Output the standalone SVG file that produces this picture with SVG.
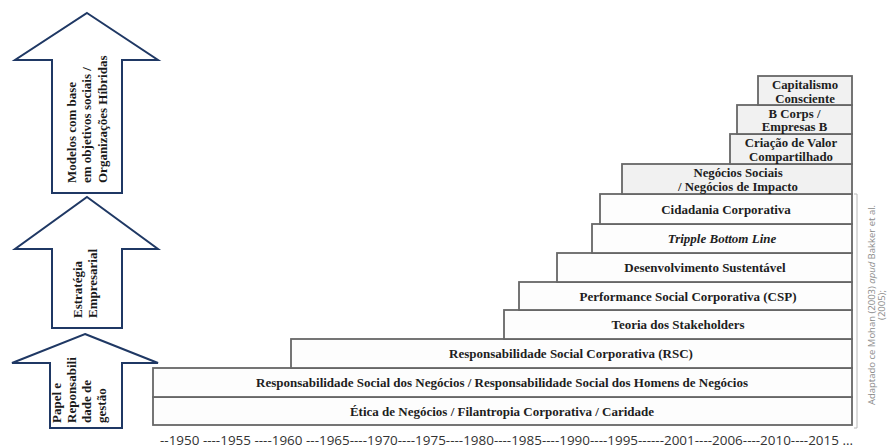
<svg xmlns="http://www.w3.org/2000/svg" width="892" height="448" viewBox="0 0 892 448">
<style>
.arrow{fill:#ffffff;stroke:#1f3864;stroke-width:2;stroke-linejoin:miter}
.atxt{font-family:"Liberation Serif","Times New Roman",serif;font-weight:bold;font-size:13px;fill:#1a1a1a}
.box{fill:#fdfdfd;stroke:#676767;stroke-width:1.8}
.box2{fill:#f1f1f1;stroke:#676767;stroke-width:1.8}
.btxt{font-family:"Liberation Serif","Times New Roman",serif;font-weight:bold;font-size:13px;fill:#1e1e1e;text-anchor:middle}
.btxt2{font-family:"Liberation Serif","Times New Roman",serif;font-weight:bold;font-size:12.8px;fill:#1e1e1e;text-anchor:middle}
.axis{font-family:"Open Sans","Liberation Sans",sans-serif;font-size:13px;fill:#333333}
.src{font-family:"Open Sans","Liberation Sans",sans-serif;font-size:9.5px;fill:#8c8c8c;text-anchor:middle}
</style>
<rect width="892" height="448" fill="#ffffff"/>

<g id="arrow-modelos">
<polygon class="arrow" points="87,13 158,60 122,60 122,193 52,193 52,60 15,60"/>
<text class="atxt" transform="translate(75.5,183) rotate(-90)"><tspan x="0" y="0">Modelos com base</tspan><tspan x="0" y="15.5">em objetivos sociais /</tspan><tspan x="0" y="31">Organizações Híbridas</tspan></text>
</g>
<g id="arrow-estrategia">
<polygon class="arrow" points="87,197 158,249 122,249 122,328 52,328 52,249 15,249"/>
<text class="atxt" transform="translate(81.5,318) rotate(-90)"><tspan x="0" y="0">Estratégia</tspan><tspan x="0" y="15">Empresarial</tspan></text>
</g>
<g id="arrow-papel">
<polygon class="arrow" points="85,334 158,363 122,363 122,428 50,428 50,363 12,363"/>
<text class="atxt" transform="translate(60.5,423) rotate(-90)"><tspan x="0" y="0">Papel e</tspan><tspan x="0" y="15">Reponsabili</tspan><tspan x="0" y="30">dade de</tspan><tspan x="0" y="45">gestão</tspan></text>
</g>

<g id="box-etica">
<rect class="box" x="153" y="397" width="699" height="28"/>
<text class="btxt" x="502" y="415.5">Ética de Negócios / Filantropia Corporativa / Caridade</text>
</g>
<g id="box-rsn">
<rect class="box" x="153" y="368" width="699" height="29"/>
<text class="btxt" x="502" y="387">Responsabilidade Social dos Negócios / Responsabilidade Social dos Homens de Negócios</text>
</g>
<g id="box-rsc">
<rect class="box" x="291" y="339" width="561" height="29"/>
<text class="btxt" x="571" y="358">Responsabilidade Social Corporativa (RSC)</text>
</g>
<g id="box-teoria">
<rect class="box" x="504" y="310" width="348" height="29"/>
<text class="btxt" x="678" y="329">Teoria dos Stakeholders</text>
</g>
<g id="box-csp">
<rect class="box" x="519" y="282" width="333" height="28"/>
<text class="btxt" x="688" y="300.5">Performance Social Corporativa (CSP)</text>
</g>
<g id="box-desenvolvimento">
<rect class="box" x="557" y="253" width="295" height="29"/>
<text class="btxt" x="705" y="272">Desenvolvimento Sustentável</text>
</g>
<g id="box-tbl">
<rect class="box" x="592" y="224" width="260" height="29"/>
<text class="btxt" x="722" y="243" font-style="italic">Tripple Bottom Line</text>
</g>
<g id="box-cidadania">
<rect class="box" x="600" y="194" width="252" height="30"/>
<text class="btxt" x="726" y="213.5">Cidadania Corporativa</text>
</g>
<g id="box-negocios-sociais">
<rect class="box2" x="622" y="164" width="230" height="30"/>
<text class="btxt2"><tspan x="738" y="176.5">Negócios Sociais</tspan><tspan x="738" y="190.5">/ Negócios de Impacto</tspan></text>
</g>
<g id="box-criacao-valor">
<rect class="box2" x="730" y="134" width="122" height="30"/>
<text class="btxt2"><tspan x="791" y="146.5">Criação de Valor</tspan><tspan x="791" y="160.5">Compartilhado</tspan></text>
</g>
<g id="box-bcorps">
<rect class="box2" x="737" y="105" width="115" height="29"/>
<text class="btxt2"><tspan x="794.5" y="117.5">B Corps /</tspan><tspan x="794.5" y="131">Empresas B</tspan></text>
</g>
<g id="box-capitalismo">
<rect class="box2" x="758" y="76" width="94" height="29"/>
<text class="btxt2"><tspan x="805" y="89">Capitalismo</tspan><tspan x="805" y="102.5">Consciente</tspan></text>
</g>

<g id="connectors">
<path d="M854,194 H857 V428 H854" fill="none" stroke="#b8b8b8" stroke-width="1"/>
</g>

<text class="axis" x="160" y="445" textLength="693" lengthAdjust="spacingAndGlyphs">--1950 ----1955 ----1960 ---1965----1970----1975----1980----1985----1990----1995------2001----2006----2010----2015 ...</text>

<text class="src" transform="translate(875,305) rotate(-90)"><tspan x="0" y="0">Adaptado ce Mohan (2003) <tspan font-style="italic">apud</tspan> Bakker et al.</tspan><tspan x="0" y="9.5">(2005);</tspan></text>
</svg>
